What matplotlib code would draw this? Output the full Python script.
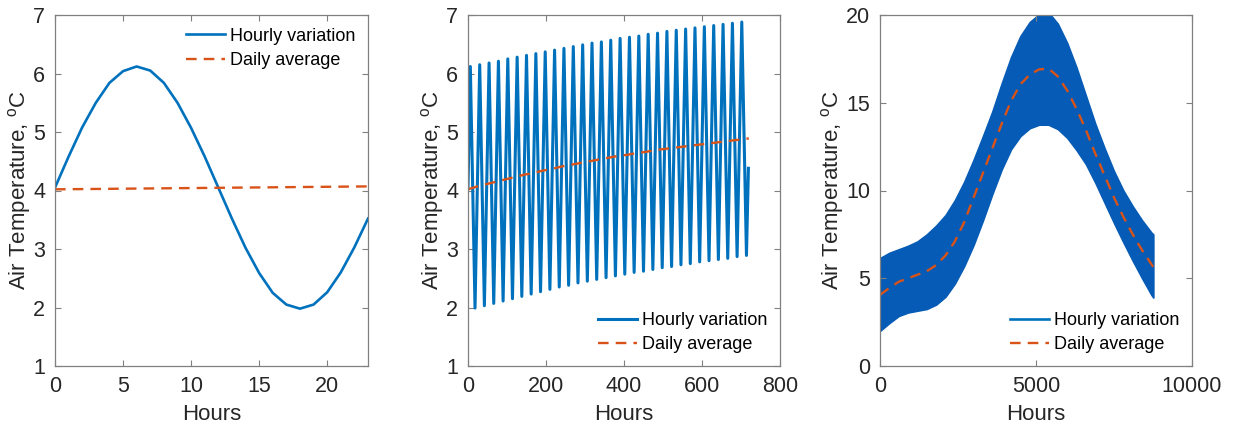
import numpy as np
import matplotlib
matplotlib.use('Agg')
import matplotlib.pyplot as plt
from matplotlib.lines import Line2D

plt.rcParams['font.family'] = ['Liberation Sans', 'DejaVu Sans']
plt.rcParams['mathtext.fontset'] = 'custom'
plt.rcParams['mathtext.rm'] = 'Liberation Sans'

azul = '#0072BD'
laranxa = '#D95319'

# Panel 1: one day
horas1 = list(range(24))
temp1 = [4.05, 4.58, 5.08, 5.50, 5.84, 6.04, 6.12, 6.05, 5.84, 5.50, 5.07, 4.58,
         4.05, 3.52, 3.02, 2.59, 2.25, 2.05, 1.98, 2.05, 2.26, 2.60, 3.03, 3.52]
horas1_media = [0, 23]
media1 = [4.02, 4.07]

# Panel 2: one month (daily peaks at hour 6, troughs at hour 18)
picos2 = [6.12, 6.15, 6.18, 6.21, 6.25, 6.28, 6.31, 6.34, 6.37, 6.40,
          6.43, 6.46, 6.49, 6.52, 6.54, 6.57, 6.60, 6.62, 6.64, 6.67,
          6.69, 6.72, 6.74, 6.76, 6.78, 6.80, 6.82, 6.84, 6.86, 6.88]
vales2 = [1.99, 2.03, 2.07, 2.11, 2.15, 2.19, 2.23, 2.27, 2.31, 2.35,
          2.38, 2.42, 2.45, 2.48, 2.51, 2.54, 2.57, 2.60, 2.62, 2.65,
          2.68, 2.70, 2.73, 2.75, 2.78, 2.80, 2.82, 2.84, 2.87, 2.89]
inicio2 = 4.05
fin2 = 4.38
media2 = [4.02, 4.07, 4.11, 4.15, 4.19, 4.23, 4.27, 4.30, 4.34, 4.37, 4.41,
          4.44, 4.47, 4.50, 4.53, 4.56, 4.59, 4.61, 4.64, 4.66, 4.69,
          4.71, 4.73, 4.75, 4.77, 4.79, 4.81, 4.83, 4.85, 4.87, 4.89]

# Panel 3: one year, envelope of the daily swing (max / min) and daily mean
horas3 = [0, 300, 600, 900, 1200, 1500, 1800, 2100, 2400, 2700, 3000, 3300,
          3600, 3900, 4200, 4500, 4800, 5100, 5400, 5700, 6000, 6300, 6600,
          6900, 7200, 7500, 7800, 8100, 8400, 8700, 8760]
maximo3 = [6.15, 6.45, 6.65, 6.85, 7.1, 7.5, 8.0, 8.6, 9.45, 10.5, 11.75, 13.1,
           14.5, 16.1, 17.6, 18.8, 19.6, 20.05, 20.15, 19.5, 18.4, 17.0, 15.4,
           13.8, 12.4, 11.1, 10.0, 9.1, 8.3, 7.6, 7.5]
minimo3 = [2.0, 2.45, 2.85, 3.05, 3.15, 3.25, 3.5, 3.95, 4.7, 5.7, 6.9, 8.3,
           9.8, 11.2, 12.35, 13.1, 13.55, 13.75, 13.75, 13.5, 13.0, 12.3, 11.5,
           10.45, 9.3, 8.15, 7.05, 6.0, 5.0, 4.05, 3.9]
media3 = [4.05, 4.45, 4.8, 5.0, 5.2, 5.4, 5.75, 6.3, 7.1, 8.2, 9.6, 11.0,
          12.4, 13.8, 15.1, 16.05, 16.6, 16.9, 16.95, 16.5, 15.7, 14.65, 13.45,
          12.1, 10.85, 9.6, 8.5, 7.5, 6.6, 5.8, 5.65]

etiqueta_y = r'Air Temperature, $^{\mathrm{o}}$C'
tracos = (0, (4.5, 3))

fig = plt.figure(figsize=(12.36, 4.32), dpi=100)
W, H = 1236, 432
ax1 = fig.add_axes([55 / W, 66 / H, 313 / W, 351 / H])
ax2 = fig.add_axes([468 / W, 66 / H, 312 / W, 351 / H])
ax3 = fig.add_axes([880 / W, 66 / H, 312 / W, 351 / H])


def estilo(ax):
    for s in ax.spines.values():
        s.set_color('#808080')
        s.set_linewidth(0.9)
    ax.tick_params(direction='in', top=True, right=True, length=4,
                   width=0.8, color='#808080', labelsize=15.5,
                   labelcolor='#262626', pad=7)
    ax.set_xlabel('Hours', fontsize=16, color='#262626', labelpad=5)
    ax.set_ylabel(etiqueta_y, fontsize=16, color='#262626', labelpad=0)


def lenda(ax, loc, **kw):
    ax.legend(loc=loc, frameon=False, fontsize=13, handlelength=2.2,
              handletextpad=0.25, labelspacing=0.4, borderaxespad=0.3, **kw)


# panel 1
ax1.plot(horas1, temp1, color=azul, lw=1.9, label='Hourly variation')
ax1.plot(horas1_media, media1, color=laranxa, lw=1.7, ls=tracos, label='Daily average')
ax1.set_xlim(0, 23)
ax1.set_ylim(1, 7)
ax1.set_xticks([0, 5, 10, 15, 20])
estilo(ax1)
lenda(ax1, 'upper right')

# panel 2
x2 = [0]
y2 = [inicio2]
for d in range(len(picos2)):
    x2 += [24 * d + 6, 24 * d + 18]
    y2 += [picos2[d], vales2[d]]
x2.append(719)
y2.append(fin2)
horas2_media = [24 * d for d in range(len(media2))]
ax2.plot(x2, y2, color=azul, lw=2.2, label='Hourly variation')
ax2.plot(horas2_media, media2, color=laranxa, lw=1.7, ls=tracos, label='Daily average')
ax2.set_xlim(0, 800)
ax2.set_ylim(1, 7)
ax2.set_xticks([0, 200, 400, 600, 800])
estilo(ax2)
lenda(ax2, 'lower right')

# panel 3
ax3.fill_between(horas3, minimo3, maximo3, color='#055BB5', lw=1.2, edgecolor='#055BB5')
ax3.plot(horas3, media3, color=laranxa, lw=1.7, ls=tracos)
ax3.set_xlim(0, 10000)
ax3.set_ylim(0, 20)
ax3.set_xticks([0, 5000, 10000])
ax3.set_yticks([0, 5, 10, 15, 20])
estilo(ax3)
xestos = [Line2D([], [], color=azul, lw=1.9),
          Line2D([], [], color=laranxa, lw=1.7, ls=tracos)]
ax3.legend(xestos, ['Hourly variation', 'Daily average'], loc='lower right',
           frameon=False, fontsize=13, handlelength=2.2,
           handletextpad=0.25, labelspacing=0.4, borderaxespad=0.3)

fig.savefig('out.png', dpi=100)
